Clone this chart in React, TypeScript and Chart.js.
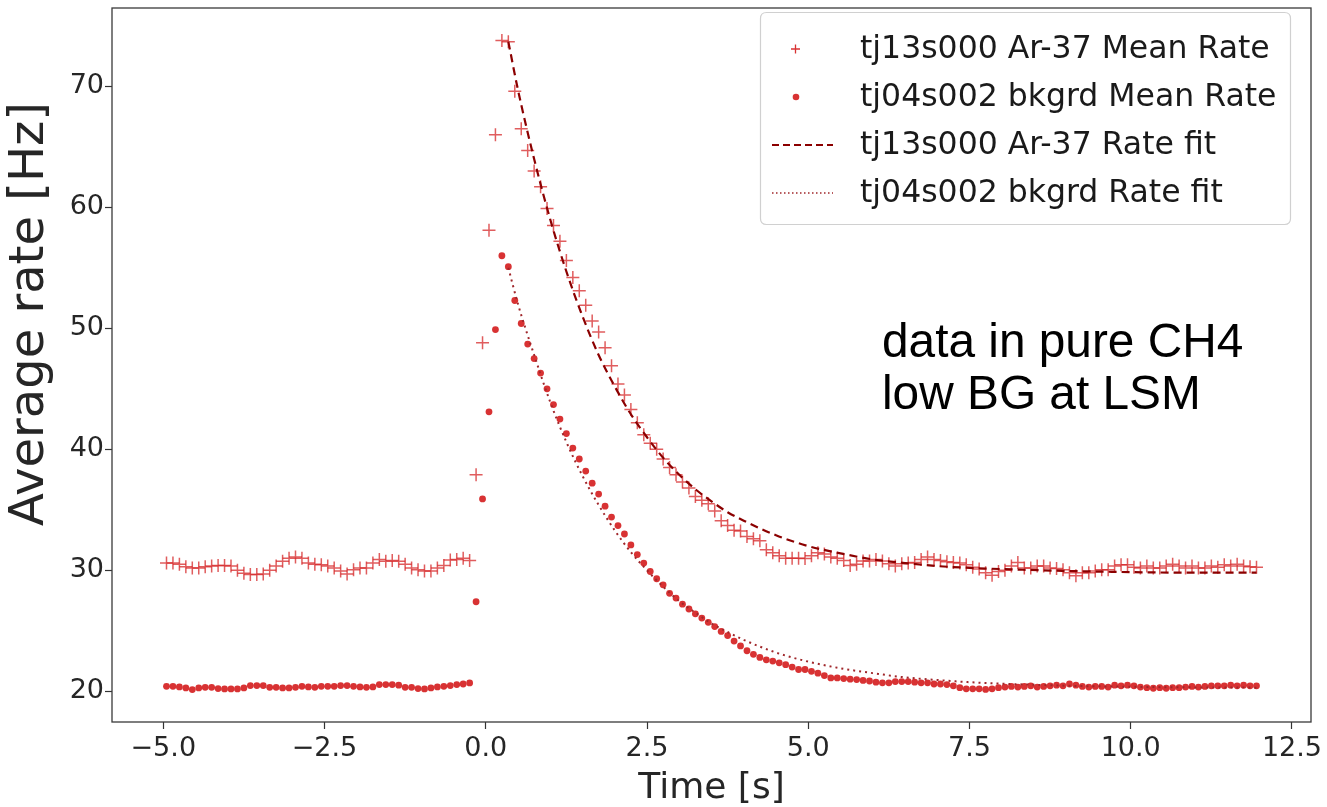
import React, { useEffect, useRef } from "react";
import { Chart, registerables } from "chart.js";

Chart.register(...registerables);

// time grid of the measured points (bin centres, seconds)
const T0 = -4.95;
const DT = 0.1;

// tj13s000 Ar-37 mean rate [Hz], one value per bin from -4.95 s to 11.95 s
const arRate = [
  30.6, 30.6, 30.5, 30.3, 30.2, 30.2, 30.3, 30.35, 30.4, 30.4,
  30.35, 30.0, 29.75, 29.65, 29.65, 29.7, 30.0, 30.35, 30.75, 31.0,
  31.1, 31.0, 30.6, 30.5, 30.45, 30.35, 30.2, 29.95, 29.7, 30.05,
  30.2, 30.2, 30.6, 30.9, 30.75, 30.8, 30.75, 30.5, 30.2, 30.05,
  29.95, 29.95, 30.2, 30.4, 30.85, 30.9, 31.0, 30.8,
  37.9, 48.8, 58.1, 66.0, 73.8, 73.7, 69.6, 66.5, 64.7, 63.0,
  61.7, 59.9, 58.5, 57.2, 55.6, 54.2, 53.1, 51.9, 50.6, 49.7,
  48.4, 46.9, 45.4, 44.5, 43.3, 42.2,
  41.2, 40.5, 40.0, 39.2, 38.5, 37.9, 37.3, 36.8, 36.1, 35.8,
  35.5, 34.9, 34.1, 33.7, 33.3, 33.25, 32.8, 32.6, 32.45, 31.7,
  31.45, 31.2, 31.0, 31.0, 31.0, 30.98, 31.2, 31.45, 31.35, 31.1,
  31.0, 30.8, 30.4, 30.5, 30.76, 30.76, 30.9, 30.76, 30.55, 30.35,
  30.55, 30.6, 30.65, 30.9, 31.1, 30.9, 30.8, 30.7, 30.65, 30.6,
  30.45, 30.25, 30.1, 29.8, 29.6, 29.9, 30.0, 30.35, 30.65, 30.2,
  30.2, 30.35, 30.35, 30.2, 30.15, 30.05, 29.8, 29.55, 29.8, 29.8,
  29.95, 30.05, 30.05, 30.35, 30.45, 30.45, 30.25, 30.2, 30.35, 30.2,
  30.2, 30.35, 30.5, 30.35, 30.2, 30.35, 30.2, 30.2, 30.35, 30.25,
  30.45, 30.35, 30.5, 30.35, 30.3, 30.25,
];

// tj04s002 bkgrd mean rate [Hz], same time grid
const bkRate = [
  20.41, 20.41, 20.36, 20.28, 20.14, 20.28, 20.33, 20.33, 20.22, 20.19,
  20.19, 20.19, 20.28, 20.47, 20.47, 20.47, 20.33, 20.33, 20.28, 20.28,
  20.33, 20.41, 20.36, 20.33, 20.41, 20.41, 20.41, 20.47, 20.47, 20.41,
  20.36, 20.33, 20.36, 20.55, 20.55, 20.55, 20.5, 20.33, 20.33, 20.22,
  20.19, 20.28, 20.36, 20.41, 20.47, 20.55, 20.6, 20.69,
  27.4, 35.9, 43.1, 49.9, 56.0, 55.1, 52.3, 50.4, 48.7, 47.5,
  46.3, 45.0, 43.7, 42.5, 41.3, 40.1, 39.2, 38.2, 37.2, 36.3,
  35.3, 34.4, 33.7, 33.0, 32.1, 31.3, 30.6, 29.9,
  29.3, 28.8, 28.1, 27.7, 27.2, 26.8, 26.4, 26.05, 25.7, 25.35,
  24.95, 24.6, 24.15, 23.75, 23.35, 23.05, 22.8, 22.6, 22.5, 22.35,
  22.2, 22.0, 21.8, 21.8, 21.65, 21.5, 21.3, 21.1, 21.1, 21.05,
  21.0, 20.97, 20.9, 20.85, 20.75, 20.7, 20.7, 20.8, 20.8, 20.8,
  20.75, 20.7, 20.7, 20.6,
  20.6, 20.55, 20.45, 20.3, 20.2, 20.2, 20.2, 20.15, 20.2, 20.3,
  20.35, 20.4, 20.35, 20.4, 20.45, 20.35, 20.4, 20.45, 20.5, 20.45,
  20.6, 20.5, 20.4, 20.35, 20.4, 20.4, 20.35, 20.5, 20.45, 20.5,
  20.45, 20.35, 20.3, 20.25, 20.3, 20.25, 20.3, 20.3, 20.35, 20.4,
  20.35, 20.4, 20.45, 20.45, 20.45, 20.5, 20.45, 20.5, 20.45, 20.45,
];

// fit curves
const fitTimes = [
  0.35, 0.5, 0.75, 1.0, 1.25, 1.5, 1.75, 2.0, 2.25, 2.5, 2.75, 3.0, 3.25, 3.5,
  3.75, 4.0, 4.5, 5.0, 5.5, 6.0, 6.5, 7.0, 7.5, 8.0, 9.0, 10.0, 11.0, 11.95,
];
const arFit = [
  73.7, 69.7, 64.0, 59.0, 54.7, 51.0, 47.8, 45.2, 42.9, 41.0, 39.3, 37.9, 36.7, 35.7,
  34.8, 34.1, 32.9, 32.0, 31.4, 30.9, 30.6, 30.35, 30.2, 30.1, 29.95, 29.85, 29.8, 29.8,
];
const bkFit = [
  55.0, 52.0, 47.8, 43.9, 40.6, 37.8, 35.4, 33.3, 31.5, 30.0, 28.65, 27.45, 26.5, 25.6,
  24.9, 24.25, 23.2, 22.45, 21.9, 21.5, 21.15, 20.93, 20.75, 20.63, 20.46, 20.37, 20.32, 20.3,
];

const xTicks = [-5, -2.5, 0, 2.5, 5, 7.5, 10, 12.5];
const yTicks = [20, 30, 40, 50, 60, 70];

const seriesLabels = [
  "tj13s000 Ar-37 Mean Rate",
  "tj04s002 bkgrd Mean Rate",
  "tj13s000 Ar-37 Rate fit",
  "tj04s002 bkgrd Rate fit",
];
const noteLines = ["data in pure CH4", "low BG at LSM"];
const xTitle = "Time [s]";
const yTitle = "Average rate [Hz]";

const RED = "rgba(214,39,40,0.95)";
const RED_LIGHT = "rgba(214,39,40,0.75)";
const DARKRED = "#8b0000";
const DOTRED = "#a0262a";
const FONT = "'DejaVu Sans', sans-serif";

export default function App() {
  const ref = useRef<HTMLCanvasElement | null>(null);

  useEffect(() => {
    const canvas = ref.current;
    if (!canvas) return;

    const grid = (vals: number[]) =>
      vals.map((v, i) => ({ x: Math.round((T0 + i * DT) * 100) / 100, y: v }));
    const pairs = (ts: number[], vs: number[]) => ts.map((t, i) => ({ x: t, y: vs[i] }));

    const overlay = {
      id: "overlay",
      afterDraw(chart: any) {
        const ctx = chart.ctx as CanvasRenderingContext2D;
        const a = chart.chartArea;
        ctx.save();
        // frame
        ctx.strokeStyle = "#3a3a3a";
        ctx.lineWidth = 1.3;
        ctx.strokeRect(a.left, a.top, a.right - a.left, a.bottom - a.top);

        // y axis title
        ctx.save();
        ctx.translate(31, 314);
        ctx.rotate(-Math.PI / 2);
        ctx.fillStyle = "#262626";
        ctx.font = `48px ${FONT}`;
        ctx.textAlign = "center";
        ctx.textBaseline = "middle";
        ctx.fillText(yTitle, 0, 0);
        ctx.restore();

        // legend box
        const bx = 760.5, by = 12.5, bw = 530, bh = 212, r = 6;
        ctx.beginPath();
        ctx.moveTo(bx + r, by);
        ctx.lineTo(bx + bw - r, by);
        ctx.quadraticCurveTo(bx + bw, by, bx + bw, by + r);
        ctx.lineTo(bx + bw, by + bh - r);
        ctx.quadraticCurveTo(bx + bw, by + bh, bx + bw - r, by + bh);
        ctx.lineTo(bx + r, by + bh);
        ctx.quadraticCurveTo(bx, by + bh, bx, by + bh - r);
        ctx.lineTo(bx, by + r);
        ctx.quadraticCurveTo(bx, by, bx + r, by);
        ctx.closePath();
        ctx.fillStyle = "rgba(255,255,255,0.85)";
        ctx.fill();
        ctx.strokeStyle = "#d0d0d0";
        ctx.lineWidth = 1.2;
        ctx.stroke();

        const rows = [49, 97, 145, 193];
        // markers
        ctx.strokeStyle = RED;
        ctx.lineWidth = 1.3;
        ctx.beginPath();
        ctx.moveTo(791, rows[0]); ctx.lineTo(800, rows[0]);
        ctx.moveTo(795.5, rows[0] - 4.5); ctx.lineTo(795.5, rows[0] + 4.5);
        ctx.stroke();
        ctx.fillStyle = RED;
        ctx.beginPath();
        ctx.arc(796, rows[1], 3.3, 0, Math.PI * 2);
        ctx.fill();
        ctx.strokeStyle = DARKRED;
        ctx.lineWidth = 2;
        ctx.setLineDash([7, 4]);
        ctx.beginPath(); ctx.moveTo(772, rows[2]); ctx.lineTo(833, rows[2]); ctx.stroke();
        ctx.strokeStyle = DOTRED;
        ctx.lineWidth = 1.5;
        ctx.setLineDash([1.5, 2.5]);
        ctx.beginPath(); ctx.moveTo(772, rows[3]); ctx.lineTo(833, rows[3]); ctx.stroke();
        ctx.setLineDash([]);

        ctx.fillStyle = "#1a1a1a";
        ctx.font = `31.5px ${FONT}`;
        ctx.textBaseline = "middle";
        ctx.textAlign = "left";
        seriesLabels.forEach((s, i) => ctx.fillText(s, 860, rows[i] + 1));

        // annotation
        ctx.fillStyle = "#000";
        ctx.font = "47.8px 'Liberation Sans', Arial, sans-serif";
        ctx.textBaseline = "alphabetic";
        ctx.fillText(noteLines[0], 882, 357);
        ctx.fillText(noteLines[1], 882, 409);
        ctx.restore();
      },
    };

    const tickFont = { family: FONT, size: 27 };
    const chart = new Chart(canvas, {
      type: "scatter",
      data: {
        datasets: [
          {
            label: seriesLabels[0],
            data: grid(arRate),
            pointStyle: "cross",
            pointRadius: 6.5,
            pointBorderWidth: 1.5,
            borderColor: RED_LIGHT,
            backgroundColor: RED_LIGHT,
            showLine: false,
            order: 2,
          },
          {
            label: seriesLabels[1],
            data: grid(bkRate),
            pointStyle: "circle",
            pointRadius: 3.4,
            pointBorderWidth: 0,
            borderColor: RED,
            backgroundColor: RED,
            showLine: false,
            order: 3,
          },
          {
            label: seriesLabels[2],
            data: pairs(fitTimes, arFit),
            showLine: true,
            pointRadius: 0,
            borderColor: DARKRED,
            borderWidth: 2.2,
            borderDash: [8, 5],
            cubicInterpolationMode: "monotone",
            order: 0,
          },
          {
            label: seriesLabels[3],
            data: pairs(fitTimes, bkFit),
            showLine: true,
            pointRadius: 0,
            borderColor: DOTRED,
            borderWidth: 2,
            borderDash: [2, 4],
            cubicInterpolationMode: "monotone",
            order: 1,
          },
        ],
      } as any,
      options: {
        animation: false,
        responsive: false,
        devicePixelRatio: 1,
        layout: { padding: { top: 8, right: 16, left: 0, bottom: 0 } },
        plugins: { legend: { display: false }, tooltip: { enabled: false } },
        scales: {
          x: {
            type: "linear",
            min: -5.795,
            max: 12.795,
            afterBuildTicks: (s: any) => {
              s.ticks = xTicks.map((v) => ({ value: v }));
            },
            afterFit: (s: any) => {
              s.height = 85;
              s.paddingLeft = 0;
              s.paddingRight = 0;
            },
            ticks: {
              font: tickFont,
              color: "#262626",
              padding: 4,
              maxRotation: 0,
              autoSkip: false,
              callback: (v: any) => (v < 0 ? "\u2212" : "") + Math.abs(Number(v)).toFixed(1),
            },
            grid: { drawOnChartArea: false, tickLength: 7, color: "#333", tickWidth: 1.2 },
            border: { display: false },
            title: {
              display: true,
              text: xTitle,
              color: "#262626",
              font: { family: FONT, size: 36, lineHeight: 1 },
              padding: { top: 0, bottom: 0 },
            },
          },
          y: {
            type: "linear",
            min: 17.46,
            max: 76.48,
            afterBuildTicks: (s: any) => {
              s.ticks = yTicks.map((v) => ({ value: v }));
            },
            afterFit: (s: any) => {
              s.width = 112;
              s.paddingTop = 0;
              s.paddingBottom = 0;
            },
            ticks: {
              font: tickFont,
              color: "#262626",
              padding: 1,
              autoSkip: false,
              callback: (v: any) => String(v),
            },
            grid: { drawOnChartArea: false, tickLength: 7, color: "#333", tickWidth: 1.2 },
            border: { display: false },
            title: { display: false },
          },
        },
      } as any,
      plugins: [overlay],
    });

    return () => chart.destroy();
  }, []);

  return (
    <div style={{ position: "fixed", left: 0, top: 0, width: 1327, height: 807, background: "#fff" }}>
      <canvas ref={ref} width={1327} height={807} style={{ display: "block" }} />
    </div>
  );
}
